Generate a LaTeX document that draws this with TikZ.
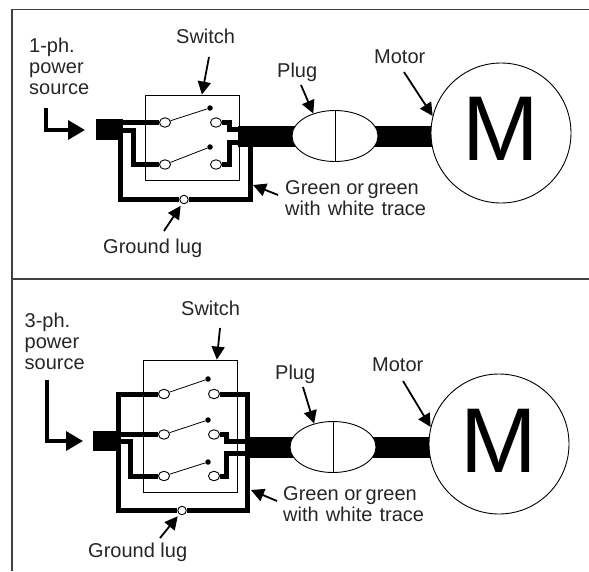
\documentclass[tikz,border=0pt]{standalone}
\usepackage{fontspec}
\setmainfont{Liberation Sans}
\usetikzlibrary{arrows.meta,backgrounds,calc,shapes.geometric}
\tikzset{
  label text/.style={anchor=base west,inner sep=0pt,text=black!85,font=\fontsize{20}{21}\selectfont},
  many lines/.style={align=left},
  terminal/.style={draw,ellipse,fill=white,line width=0.9pt,inner sep=0pt,minimum width=11pt,minimum height=9.5pt},
  pivot/.style={circle,fill=black,inner sep=0pt,minimum size=5.5pt},
  lug/.style={draw,circle,fill=white,line width=0.9pt,inner sep=0pt,minimum size=8.5pt},
  switch box/.style={draw,line width=0.8pt,inner sep=0pt},
  plug/.style={draw,ellipse,fill=white,line width=0.9pt,inner sep=0pt,minimum width=86pt,minimum height=51pt},
  motor/.style={draw,circle,fill=white,line width=0.9pt,inner sep=0pt,minimum size=140pt},
  block/.style={fill=black,inner sep=0pt},
  wire/.style={line width=5pt,line cap=butt,line join=miter},
  cable/.style={line width=21pt},
  blade/.style={line width=0.8pt},
  pointer/.style={line width=1.8pt,-{Triangle[length=13pt,width=13pt]}},
  source arrow/.style={line width=3.5pt,-{Triangle[length=17pt,width=19pt]}},
  frame/.style={line width=1.1pt,draw=black!75}
}
\begin{document}
\begin{tikzpicture}[x=1pt,y=-1pt]
\useasboundingbox (0,0) rectangle (589,571);
\draw[frame] (589,9.5) -- (12,9.5) -- (12,571);
\draw[frame] (12,279) -- (589,279);

\node[label text,many lines] (source1) at (29,94) {1-ph.\\power\\source};
\node[label text] (switchtext1) at (176,43) {Switch};
\node[label text] (plugtext1) at (277,77) {Plug};
\node[label text] (motortext1) at (374,63) {Motor};
\node[label text,many lines] (greentext1) at (285,215) {Green or\hspace{-2pt} green\\with\hspace{1.5pt} white\hspace{1.5pt} trace};
\node[label text] (lugtext1) at (103,253) {Ground lug};

\node[switch box,minimum width=94pt,minimum height=85pt] (box1) at (192,137.5) {};
\node[block,minimum width=27pt,minimum height=21pt] (block1) at (109.5,129.5) {};
\node[plug] (plug1) at (335,136) {};
\node[motor] (motor1) at (501,133) {};
\node[inner sep=0pt,anchor=base,font=\fontsize{92}{92}\selectfont] (mtext1) at (501,160) {M};
\node[terminal] (t1a) at (165,122.5) {};
\node[terminal] (t1b) at (165,164.5) {};
\node[terminal] (t1c) at (216,122.5) {};
\node[terminal] (t1d) at (216,164.5) {};
\node[pivot] (p1a) at (210,108) {};
\node[pivot] (p1b) at (210,147) {};
\node[lug] (lug1) at (184,199.5) {};
\coordinate (cable1) at (238,136.5);
\coordinate (join1a) at (238,129.5);
\coordinate (join1b) at (238,142.5);
\coordinate (tee1) at (250,147);
\coordinate (drop1) at (120,140);

\draw[blade] (plug1.north) -- (plug1.south);
\draw[blade] (t1a) -- (p1a);
\draw[blade] (t1b) -- (p1b);
\begin{pgfonlayer}{background}
\draw[cable] (cable1) -- (cable1 -| plug1.center);
\draw[cable] (plug1.center) -- (plug1.center -| motor1.center);
\draw[wire] (block1.east |- t1a) -- (t1a);
\draw[wire] (block1.east |- 0,130.5) -| (133.5,164.5) -- (t1b);
\draw[wire] (t1c) -| (229.5,129.5) -- (join1a);
\draw[wire] (t1d) -| (229.5,142.5) -- (join1b);
\draw[wire] (drop1) |- (lug1) -| (tee1);
\end{pgfonlayer}

\coordinate (arrowswitch1) at (209,57);
\coordinate (arrowplug1) at (301,85);
\coordinate (arrowmotor1) at (404,72);
\coordinate (arrowgreen1) at (278,195);
\coordinate (tipgreen1) at (253,185);
\coordinate (arrowlug1) at (164,231);
\coordinate (arrowsource1) at (46,108);
\coordinate (tipsource1) at (85,130);
\draw[pointer] (arrowswitch1) -- (box1.77);
\draw[pointer] (arrowplug1) -- (plug1.134);
\draw[pointer] (arrowmotor1) -- (motor1.166);
\draw[pointer] (arrowgreen1) -- (tipgreen1);
\draw[pointer,shorten >=2.5pt] (arrowlug1) -- (lug1.245);
\draw[source arrow] (arrowsource1) |- (tipsource1);

\node[label text,many lines] (source2) at (24.5,369) {3-ph.\\power\\source};
\node[label text] (switchtext2) at (181,315) {Switch};
\node[label text] (plugtext2) at (275,379) {Plug};
\node[label text] (motortext2) at (372,371) {Motor};
\node[label text,many lines] (greentext2) at (283,521) {Green or\hspace{-2pt} green\\with\hspace{1.5pt} white\hspace{1.5pt} trace};
\node[label text] (lugtext2) at (88,557) {Ground lug};

\node[switch box,minimum width=94pt,minimum height=132pt] (box2) at (190,426) {};
\node[block,minimum width=27pt,minimum height=20pt] (block2) at (106.5,441) {};
\node[plug] (plug2) at (333,447) {};
\node[motor] (motor2) at (499,444) {};
\node[inner sep=0pt,anchor=base,font=\fontsize{92}{92}\selectfont] (mtext2) at (499,472) {M};
\foreach \name/\ypos in {a/394,b/434.5,c/476}{
  \node[terminal] (t2\name l) at (164,\ypos) {};
  \node[terminal] (t2\name r) at (214,\ypos) {};
}
\node[pivot] (p2a) at (208,379) {};
\node[pivot] (p2b) at (208,420) {};
\node[pivot] (p2c) at (208,462) {};
\node[lug] (lug2) at (182,510.5) {};
\coordinate (cable2) at (247,447);
\coordinate (join2a) at (247,441);
\coordinate (join2b) at (247,453.5);
\coordinate (drop2) at (118.5,394);
\coordinate (corner2) at (247,394);

\draw[blade] (plug2.north) -- (plug2.south);
\draw[blade] (t2al) -- (p2a);
\draw[blade] (t2bl) -- (p2b);
\draw[blade] (t2cl) -- (p2c);
\begin{pgfonlayer}{background}
\draw[cable] (cable2) -- (cable2 -| plug2.center);
\draw[cable] (plug2.center) -- (plug2.center -| motor2.center);
\draw[wire] (block2.east |- t2bl) -- (t2bl);
\draw[wire] (block2.east |- 0,441.5) -| (130.5,476) -- (t2cl);
\draw[wire] (t2br) -| (226.5,441) -- (join2a);
\draw[wire] (t2cr) -| (226.5,453.5) -- (join2b);
\draw[wire] (t2al) -- (drop2) |- (lug2) -| (corner2) -- (t2ar);
\end{pgfonlayer}

\coordinate (arrowswitch2) at (220,328);
\coordinate (arrowplug2) at (303,387);
\coordinate (arrowmotor2) at (403,381);
\coordinate (arrowgreen2) at (277,501);
\coordinate (tipgreen2) at (251,490);
\coordinate (arrowlug2) at (160,538);
\coordinate (arrowsource2) at (47,380);
\coordinate (tipsource2) at (83,441);
\draw[pointer] (arrowswitch2) -- (box2.68);
\draw[pointer] (arrowplug2) -- (plug2.129);
\draw[pointer] (arrowmotor2) -- (motor2.166);
\draw[pointer] (arrowgreen2) -- (tipgreen2);
\draw[pointer,shorten >=2.5pt] (arrowlug2) -- (lug2.235);
\draw[source arrow] (arrowsource2) |- (tipsource2);
\end{tikzpicture}
\end{document}
